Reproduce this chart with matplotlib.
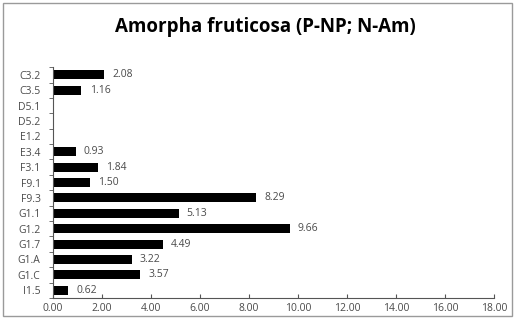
import matplotlib
matplotlib.use("Agg")
import matplotlib.pyplot as plt
from matplotlib.patches import Rectangle
import numpy as np

categories = ["C3.2", "C3.5", "D5.1", "D5.2", "E1.2", "E3.4", "F3.1", "F9.1",
              "F9.3", "G1.1", "G1.2", "G1.7", "G1.A", "G1.C", "I1.5"]
values = [2.08, 1.16, None, None, None, 0.93, 1.84, 1.50,
          8.29, 5.13, 9.66, 4.49, 3.22, 3.57, 0.62]
x_ticks = [0, 2, 4, 6, 8, 10, 12, 14, 16, 18]
title = "Amorpha fruticosa (P-NP; N-Am)"

plt.rcParams["font.family"] = ["Open Sans", "DejaVu Sans"]
text_color = "#4a4a4a"

fig = plt.figure(figsize=(5.15, 3.2), dpi=100)
fig.patch.set_facecolor("white")
fig.patches.append(Rectangle((0.006, 0.012), 0.988, 0.978, transform=fig.transFigure,
                             fill=False, edgecolor="#9a9a9a", linewidth=1.0))

ax = fig.add_axes([0.103, 0.069, 0.856, 0.721])
n = len(categories)
ypos = np.arange(n)
for y, v in zip(ypos, values):
    if v is None:
        continue
    ax.barh(y, v, height=0.58, color="black")
    ax.text(v + 0.33, y, f"{v:.2f}", va="center", ha="left", fontsize=7.5, color=text_color)

ax.set_xlim(0, 18)
ax.set_ylim(n - 0.5, -0.5)
ax.set_xticks(x_ticks)
ax.set_xticklabels([f"{t:.2f}" for t in x_ticks], fontsize=7.5, color=text_color)
ax.set_yticks(ypos)
ax.set_yticklabels(categories, fontsize=7.5, color=text_color)
ax.set_yticks(np.arange(n + 1) - 0.5, minor=True)
ax.tick_params(axis="y", which="major", length=0, pad=9)
ax.tick_params(axis="y", which="minor", length=3, direction="out", color="#555555")
ax.tick_params(axis="x", which="major", length=3, direction="in", color="#555555", pad=4)
for s in ["top", "right"]:
    ax.spines[s].set_visible(False)
for s in ["left", "bottom"]:
    ax.spines[s].set_color("#555555")
    ax.spines[s].set_linewidth(0.8)

fig.text(0.515, 0.915, title, ha="center", va="center", fontsize=13.5, fontweight="bold",
         color="black")

fig.savefig("out.png", dpi=100)
